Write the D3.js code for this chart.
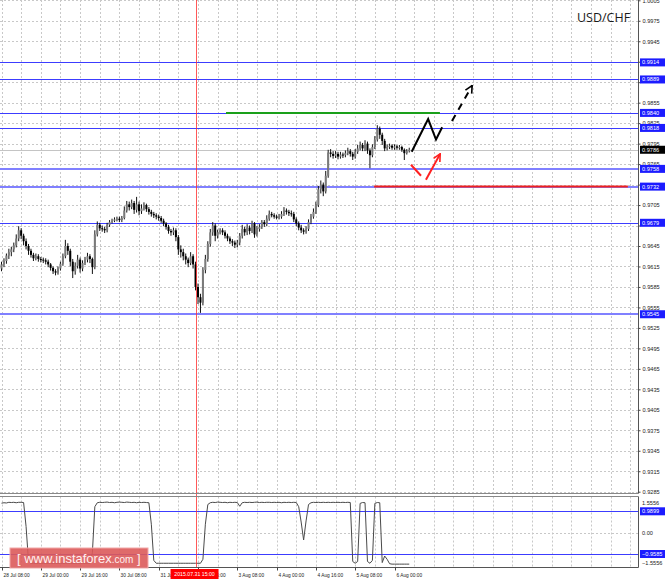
<!DOCTYPE html>
<html><head><meta charset="utf-8">
<script src="https://cdn.jsdelivr.net/npm/d3@7"></script>
<style>body{margin:0;background:#fff}svg{display:block}</style>
</head><body>
<svg id="c" width="665" height="580"></svg>
<script>
// ---------- DATA ----------
const firstOpen = 0.9612;
const closes = [
0.9618,0.9623,0.9631,0.9636,0.9640,0.9646,0.9656,0.9668,0.9660,0.9652,
0.9645,0.9638,0.9632,0.9627,0.9630,0.9626,0.9625,0.9624,0.9622,0.9618,
0.9613,0.9608,0.9606,0.9612,0.9619,0.9630,0.9645,0.9638,0.9622,0.9608,
0.9616,0.9625,0.9612,0.9620,0.9625,0.9630,0.9626,0.9614,0.9662,0.9676,
0.9671,0.9670,0.9668,0.9676,0.9680,0.9682,0.9684,0.9685,0.9683,0.9686,
0.9697,0.9706,0.9702,0.9708,0.9698,0.9706,0.9696,0.9700,0.9705,0.9699,
0.9695,0.9692,0.9690,0.9688,0.9686,0.9682,0.9678,0.9673,0.9667,0.9665,
0.9668,0.9658,0.9640,0.9636,0.9630,0.9625,0.9620,0.9630,0.9618,0.9585,
0.9570,0.9562,0.9610,0.9626,0.9648,0.9665,0.9675,0.9660,0.9665,0.9668,
0.9665,0.9660,0.9656,0.9652,0.9650,0.9647,0.9650,0.9660,0.9670,0.9665,
0.9672,0.9667,0.9678,0.9662,0.9670,0.9673,0.9680,0.9677,0.9685,0.9692,
0.9690,0.9688,0.9687,0.9688,0.9692,0.9697,0.9695,0.9693,0.9692,0.9684,
0.9678,0.9672,0.9668,0.9666,0.9670,0.9680,0.9688,0.9695,0.9705,0.9728,
0.9735,0.9725,0.9748,0.9782,0.9780,0.9777,0.9780,0.9776,0.9779,0.9778,
0.9781,0.9784,0.9780,0.9776,0.9783,0.9788,0.9793,0.9788,0.9795,0.9785,
0.9778,0.9790,0.9801,0.9817,0.9808,0.9799,0.9788,0.9790,0.9792,0.9789,
0.9791,0.9789,0.9790,0.9786,0.9781,0.9784,0.9786];
const highs = [
0.9622,0.9627,0.9634,0.9641,0.9644,0.9650,0.9662,0.9674,0.9671,0.9663,
0.9656,0.9648,0.9641,0.9635,0.9634,0.9633,0.9629,0.9628,0.9627,0.9625,
0.9620,0.9615,0.9611,0.9615,0.9622,0.9634,0.9654,0.9649,0.9641,0.9626,
0.9621,0.9632,0.9628,0.9624,0.9629,0.9635,0.9633,0.9628,0.9668,0.9681,
0.9679,0.9675,0.9673,0.9679,0.9683,0.9685,0.9687,0.9688,0.9688,0.9689,
0.9703,0.9711,0.9710,0.9713,0.9711,0.9717,0.9710,0.9706,0.9709,0.9707,
0.9702,0.9698,0.9695,0.9693,0.9691,0.9689,0.9685,0.9680,0.9676,0.9670,
0.9672,0.9671,0.9661,0.9646,0.9641,0.9634,0.9628,0.9636,0.9633,0.9622,
0.9590,0.9575,0.9614,0.9632,0.9652,0.9670,0.9680,0.9678,0.9669,0.9671,
0.9671,0.9668,0.9663,0.9659,0.9655,0.9653,0.9654,0.9664,0.9676,0.9673,
0.9677,0.9675,0.9682,0.9680,0.9674,0.9677,0.9683,0.9683,0.9690,0.9697,
0.9695,0.9693,0.9691,0.9692,0.9696,0.9702,0.9700,0.9698,0.9697,0.9695,
0.9687,0.9681,0.9676,0.9671,0.9674,0.9684,0.9692,0.9700,0.9710,0.9733,
0.9741,0.9738,0.9755,0.9786,0.9787,0.9784,0.9784,0.9783,0.9783,0.9782,
0.9785,0.9789,0.9787,0.9783,0.9787,0.9793,0.9798,0.9796,0.9800,0.9798,
0.9788,0.9794,0.9806,0.9822,0.9820,0.9811,0.9802,0.9794,0.9795,0.9794,
0.9794,0.9793,0.9793,0.9792,0.9788,0.9787,0.9789];
const lows = [
0.9608,0.9614,0.9619,0.9626,0.9630,0.9636,0.9643,0.9652,0.9655,0.9646,
0.9640,0.9632,0.9628,0.9623,0.9624,0.9622,0.9621,0.9620,0.9618,0.9614,
0.9609,0.9604,0.9602,0.9603,0.9609,0.9616,0.9627,0.9632,0.9615,0.9598,
0.9603,0.9612,0.9606,0.9608,0.9617,0.9621,0.9620,0.9604,0.9611,0.9659,
0.9667,0.9666,0.9664,0.9665,0.9673,0.9678,0.9680,0.9681,0.9680,0.9680,
0.9684,0.9694,0.9697,0.9699,0.9692,0.9694,0.9690,0.9692,0.9697,0.9695,
0.9691,0.9688,0.9686,0.9684,0.9682,0.9679,0.9674,0.9669,0.9663,0.9660,
0.9661,0.9652,0.9632,0.9628,0.9624,0.9618,0.9614,0.9617,0.9612,0.9580,
0.9560,0.9547,0.9558,0.9605,0.9622,0.9644,0.9660,0.9652,0.9656,0.9662,
0.9661,0.9656,0.9652,0.9648,0.9645,0.9642,0.9643,0.9646,0.9656,0.9660,
0.9661,0.9662,0.9664,0.9657,0.9659,0.9666,0.9670,0.9673,0.9674,0.9682,
0.9687,0.9685,0.9684,0.9684,0.9685,0.9689,0.9691,0.9689,0.9688,0.9680,
0.9674,0.9668,0.9664,0.9662,0.9663,0.9667,0.9677,0.9685,0.9692,0.9702,
0.9722,0.9718,0.9722,0.9745,0.9775,0.9773,0.9774,0.9772,0.9773,0.9774,
0.9775,0.9778,0.9776,0.9771,0.9773,0.9780,0.9785,0.9784,0.9784,0.9780,
0.9759,0.9775,0.9787,0.9798,0.9802,0.9793,0.9784,0.9785,0.9787,0.9786,
0.9786,0.9786,0.9786,0.9783,0.9771,0.9779,0.9782];
const indicator = [
1.36,1.38,1.37,1.40,1.39,1.40,1.38,1.40,1.40,1.39,
0.30,-1.30,-1.38,-1.38,-1.38,-1.38,-1.38,-1.38,-1.38,-1.38,
-1.38,-1.38,-1.38,-1.38,-1.38,-1.38,-1.38,-1.38,-1.38,-1.38,
-1.38,-1.38,-1.38,-1.38,-1.38,-1.38,-1.38,-0.90,1.20,1.38,
1.40,1.39,1.40,1.41,1.39,1.40,1.38,1.40,1.41,1.40,
1.39,1.41,1.40,1.39,1.40,1.38,1.40,1.39,1.40,1.39,
1.38,0.40,-1.25,-1.38,-1.38,-1.38,-1.38,-1.38,-1.38,-1.38,
-1.38,-1.38,-1.38,-1.38,-1.38,-1.38,-1.38,-1.38,-1.38,-1.38,
-1.38,-1.38,-1.20,0.40,1.30,1.38,1.40,1.39,1.41,1.40,
1.39,1.40,1.38,1.40,1.39,1.40,1.39,1.22,1.38,1.40,
1.39,1.40,1.39,1.40,1.41,1.39,1.40,1.39,1.40,1.40,
1.39,1.40,1.39,1.40,1.38,1.40,1.39,1.40,1.39,1.40,
1.39,1.20,0.50,-0.32,0.55,1.30,1.38,1.40,1.39,1.40,
1.39,1.40,1.39,1.40,1.39,1.40,1.39,1.40,1.39,1.40,
1.39,1.40,1.39,-1.30,-1.38,-1.30,1.35,1.39,1.38,-1.30,
-1.38,-1.25,1.35,1.39,1.38,-1.35,-1.05,-1.20,-1.40,-1.42,
-1.42,-1.42,-1.42,-1.42,-1.42,-1.42,-1.42];
const priceTicks = [1.0005,0.9975,0.9945,0.9915,0.9885,0.9855,0.9825,0.9795,0.9765,0.9735,0.9705,0.9675,
  0.9645,0.9615,0.9585,0.9555,0.9525,0.9495,0.9465,0.9435,0.9405,0.9375,0.9345,0.9315,0.9285];
const levels = [0.9914,0.9889,0.9840,0.9818,0.9758,0.9732,0.9679,0.9545];
const lastPrice = 0.9786;
const timeLabels = ["28 Jul 08:00","29 Jul 00:00","29 Jul 16:00","30 Jul 08:00","31 Jul 00:00","31 Jul 16:00",
  "3 Aug 08:00","4 Aug 00:00","4 Aug 16:00","5 Aug 08:00","6 Aug 00:00"];
const barsPerLabel = 16;
const cursorBar = 79, cursorLabel = "2015.07.31 15:00";
const indLevels = [0.9899,-0.9585];
const indRange = [1.5556,-1.5556];
// forecast annotations in (bar index, price)
const greenSpan = [91.4,178.5], greenPrice = 0.9840;
const redSpan = [151.7,255], redPrice = 0.9732;
const blackSolid = [[167.0,0.9783],[173.7,0.9831],[176.9,0.9801],[179.4,0.9819]];
const blackDashed = [[183.4,0.9828],[191.6,0.9880]];
const redArrowA = [[166.7,0.9764],[170.8,0.9748]];
const redArrowB = [[172.8,0.9742],[178.6,0.9780]];

// ---------- LAYOUT / STYLES ----------
const plotRight = 638.5, mainBottom = 493.5, indTop = 496.5, indBottom = 567.5;
const FONT = "'Liberation Sans', Arial, sans-serif";
const svg = d3.select("#c");
const x = d3.scaleLinear().domain([0,8]).range([1.5, 1.5+19.65]);
const y = d3.scaleLinear().domain([0.9645,0.9285]).range([246,491.7]);
const yi = d3.scaleLinear().domain(indRange).range([498.9,567.1]);
const opens = closes.map((c,i)=> i===0 ? firstOpen : closes[i-1]);
const crisp = v => Math.round(v)+0.5;

const defs = svg.append("defs");
function marker(id,color){
  defs.append("marker").attr("id",id).attr("viewBox","0 0 10 10").attr("refX",9).attr("refY",5)
    .attr("markerWidth",9).attr("markerHeight",9).attr("markerUnits","userSpaceOnUse").attr("orient","auto")
    .append("path").attr("d","M1,1 L9,5 L1,9").attr("fill","none").attr("stroke",color).attr("stroke-width",1.8);
}
marker("ab","#000"); marker("ar","#ff2020");

// grid
const grid = svg.append("g").attr("stroke","#c8c8c8").attr("stroke-dasharray","2,2").attr("stroke-width",1);
d3.range(0,33).forEach(k=>{
  const gx = crisp(x(8*k));
  grid.append("line").attr("x1",gx).attr("x2",gx).attr("y1",0).attr("y2",mainBottom);
  grid.append("line").attr("x1",gx).attr("x2",gx).attr("y1",indTop).attr("y2",indBottom);
});
priceTicks.forEach(p=>{
  const gy = crisp(y(p));
  grid.append("line").attr("x1",0).attr("x2",plotRight).attr("y1",gy).attr("y2",gy);
});
grid.append("line").attr("x1",0).attr("x2",plotRight).attr("y1",crisp(yi(0))).attr("y2",crisp(yi(0)));

// levels
levels.forEach(p=>{
  const strong = p>=0.9818 || p===0.9679;
  const ly = strong ? crisp(y(p)) : Math.round(y(p));
  svg.append("line").attr("x1",0).attr("x2",plotRight).attr("y1",ly).attr("y2",ly)
    .attr("stroke",strong ? "#3c3cff" : "#8080ff").attr("stroke-width",strong?1:2);
});
svg.append("line").attr("x1",0).attr("x2",plotRight).attr("y1",crisp(y(lastPrice))).attr("y2",crisp(y(lastPrice)))
  .attr("stroke","#c4c4c4").attr("stroke-width",1);
indLevels.forEach(v=>{
  svg.append("line").attr("x1",0).attr("x2",plotRight).attr("y1",crisp(yi(v))).attr("y2",crisp(yi(v)))
    .attr("stroke","#3c3cff").attr("stroke-width",1);
});

// candles
const cg = svg.append("g");
closes.forEach((c,i)=>{
  const cx = x(i), o = opens[i];
  cg.append("line").attr("x1",cx).attr("x2",cx).attr("y1",y(highs[i])).attr("y2",y(lows[i]))
    .attr("stroke","#111").attr("stroke-width",1);
  const top = y(Math.max(o,c)), bot = y(Math.min(o,c));
  cg.append("rect").attr("x",cx-1).attr("width",2).attr("y",top).attr("height",Math.max(1,bot-top))
    .attr("fill", c>=o ? "#7a7a7a" : "#000");
});

// indicator line
svg.append("path").datum(indicator)
  .attr("d",d3.line().x((d,i)=>x(i)).y(d=>yi(d)))
  .attr("fill","none").attr("stroke","#4a4a4a").attr("stroke-width",1);

// cursor vertical line
svg.append("line").attr("x1",crisp(x(cursorBar))).attr("x2",crisp(x(cursorBar)))
  .attr("y1",0).attr("y2",indBottom).attr("stroke","#ff3030").attr("stroke-opacity",0.8).attr("stroke-width",1);

// annotations
svg.append("line").attr("x1",x(greenSpan[0])).attr("x2",x(greenSpan[1])).attr("y1",y(greenPrice)).attr("y2",y(greenPrice))
  .attr("stroke","#1aa01a").attr("stroke-width",2);
svg.append("line").attr("x1",x(redSpan[0])).attr("x2",x(redSpan[1])).attr("y1",y(redPrice)).attr("y2",y(redPrice))
  .attr("stroke","#ee2020").attr("stroke-width",2);
const ln = d3.line().x(d=>x(d[0])).y(d=>y(d[1]));
svg.append("path").attr("d",ln(blackSolid)).attr("fill","none").attr("stroke","#000").attr("stroke-width",2)
  .attr("stroke-linejoin","miter");
svg.append("path").attr("d",ln(blackDashed)).attr("fill","none").attr("stroke","#000").attr("stroke-width",2)
  .attr("stroke-dasharray","7,6").attr("marker-end","url(#ab)");
svg.append("path").attr("d",ln(redArrowA)).attr("fill","none").attr("stroke","#ff2020").attr("stroke-width",2);
svg.append("path").attr("d",ln(redArrowB)).attr("fill","none").attr("stroke","#ff2020").attr("stroke-width",2)
  .attr("marker-end","url(#ar)");

// borders
const bd = svg.append("g").attr("stroke","#555").attr("stroke-width",1);
bd.append("line").attr("x1",plotRight).attr("x2",plotRight).attr("y1",0).attr("y2",mainBottom);
bd.append("line").attr("x1",plotRight).attr("x2",plotRight).attr("y1",indTop).attr("y2",indBottom);
bd.append("line").attr("x1",0).attr("x2",plotRight).attr("y1",mainBottom).attr("y2",mainBottom).attr("stroke","#888");
bd.append("line").attr("x1",0).attr("x2",plotRight).attr("y1",indTop).attr("y2",indTop).attr("stroke","#888");
bd.append("line").attr("x1",0).attr("x2",plotRight).attr("y1",indBottom).attr("y2",indBottom);

// price axis (labels hidden under a level box are not shown, as in the reference)
const covered = p => levels.concat([lastPrice]).some(l => Math.abs(y(l)-y(p)) < 3.5);
const ay = svg.append("g").attr("transform",`translate(${plotRight},0)`)
  .call(d3.axisRight(y).tickValues(priceTicks).tickFormat(p => covered(p) ? "" : d3.format(".4f")(p)).tickSize(2).tickPadding(2));
ay.select(".domain").remove();
ay.selectAll("text").attr("font-family",FONT).attr("font-size",5.6).attr("fill","#222");
ay.selectAll("line").attr("stroke","#444");

// indicator axis labels
[[indRange[0],502.7],[0,533],[indRange[1],563.3]].forEach(([v,py])=>{
  svg.append("text").attr("x",642).attr("y",py).attr("dy","0.35em").attr("font-family",FONT).attr("font-size",5.6)
    .attr("fill","#222").text(v===0?"0.00":d3.format(".4f")(v));
});

// value boxes
function vbox(py,txt,fill){
  svg.append("rect").attr("x",640).attr("y",py-4).attr("width",25).attr("height",8).attr("fill",fill);
  svg.append("text").attr("x",642).attr("y",py).attr("dy","0.35em").attr("font-family",FONT).attr("font-size",5.6)
    .attr("fill","#fff").text(txt);
}
levels.forEach(p=>vbox(y(p),d3.format(".4f")(p),"#1c1cff"));
vbox(y(lastPrice),d3.format(".4f")(lastPrice),"#000");
indLevels.forEach(v=>vbox(yi(v),d3.format(".4f")(v),"#1c1cff"));

// time axis
timeLabels.forEach((t,k)=>{
  const tx = crisp(x(k*barsPerLabel));
  svg.append("line").attr("x1",tx).attr("x2",tx).attr("y1",indBottom).attr("y2",indBottom+3).attr("stroke","#444");
  svg.append("text").attr("x",tx+1).attr("y",576.5).attr("font-family",FONT).attr("font-size",4.8)
    .attr("fill","#222").text(t);
});
const cxp = x(cursorBar);
svg.append("rect").attr("x",cxp-25).attr("y",569).attr("width",48).attr("height",10).attr("fill","#ff0000");
svg.append("text").attr("x",cxp-1).attr("y",576.2).attr("text-anchor","middle").attr("font-family",FONT)
  .attr("font-size",5.2).attr("fill","#fff").text(cursorLabel);

// watermark
svg.append("rect").attr("x",10).attr("y",548).attr("width",138).attr("height",20)
  .attr("fill","#dc5a5a").attr("fill-opacity",0.9).attr("stroke","#f2a8a8").attr("stroke-width",1);
const wt = svg.append("text").attr("x",17).attr("y",563).attr("font-family",FONT).attr("fill","#fff0f0");
wt.append("tspan").attr("font-size",13).text("[ www.instaforex");
wt.append("tspan").attr("font-size",10).text(".com");
wt.append("tspan").attr("font-size",13).text(" ]");

// title
svg.append("text").attr("x",577).attr("y",21.5).attr("font-family","'Open Sans', sans-serif").attr("font-size",12.5)
  .attr("fill","#1a1a1a").text("USD/CHF");
</script>
</body></html>
